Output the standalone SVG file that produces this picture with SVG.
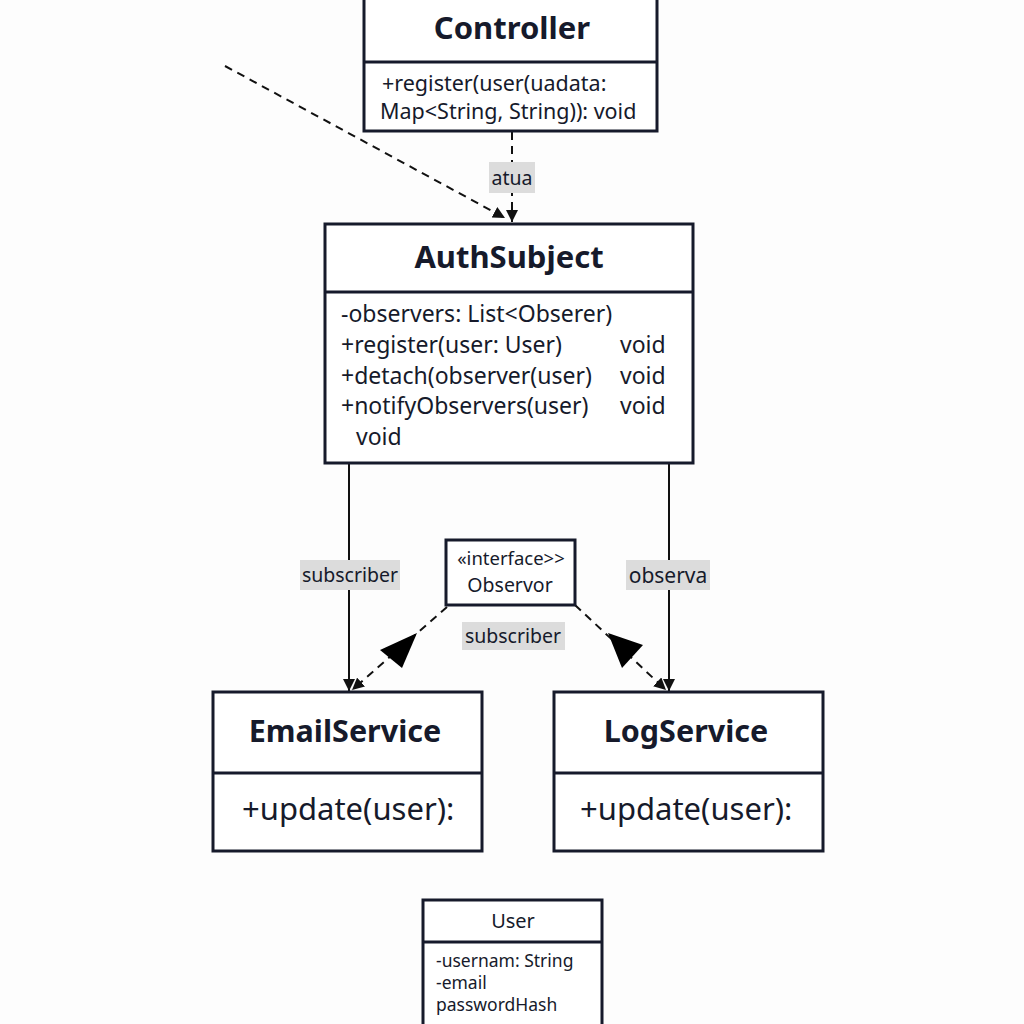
<svg xmlns="http://www.w3.org/2000/svg" width="1024" height="1024" viewBox="0 0 1024 1024">
<style>
.box{fill:#fff;stroke:#161a2b;stroke-width:3}
.div{stroke:#161a2b;stroke-width:3}
.t{font-family:"Noto Sans","Open Sans",sans-serif;fill:#161a2b}
.b{font-weight:bold}
.ln{stroke:#111;stroke-width:2;fill:none}
.ds{stroke-dasharray:8 6}
.lb{fill:#dcdcdc}
</style>
<defs>
<marker id="ah" viewBox="0 0 10 10" refX="10" refY="5" markerWidth="12" markerHeight="12" markerUnits="userSpaceOnUse" orient="auto">
<path d="M0,0 L10,5 L0,10 z" fill="#111"/>
</marker>
</defs>
<rect width="1024" height="1024" fill="#fdfdfd"/>

<g id="connectors">
<line class="ln ds" x1="512" y1="132" x2="512" y2="222" marker-end="url(#ah)"/>
<line class="ln ds" x1="225" y1="66" x2="505" y2="218" marker-end="url(#ah)"/>
<line class="ln" x1="349" y1="464" x2="349" y2="691" marker-end="url(#ah)"/>
<line class="ln" x1="669" y1="464" x2="669" y2="691" marker-end="url(#ah)"/>
<line class="ln ds" x1="447" y1="607" x2="352" y2="690" marker-end="url(#ah)"/>
<line class="ln ds" x1="575" y1="605" x2="666" y2="690" marker-end="url(#ah)"/>
<path d="M417,633 L380,650 L402,668 Z" fill="#000"/>
<path d="M608,633 L643,645 L622,668 Z" fill="#000"/>
<rect class="lb" x="489" y="162" width="46" height="31"/>
<text class="t" x="512" y="185" font-size="19.5" text-anchor="middle">atua</text>
<rect class="lb" x="300" y="560" width="100" height="30"/>
<text class="t" x="350" y="582" font-size="19.5" text-anchor="middle">subscriber</text>
<rect class="lb" x="626" y="560" width="84" height="30"/>
<text class="t" x="668" y="583" font-size="21" text-anchor="middle">observa</text>
<rect class="lb" x="462" y="622" width="103" height="28"/>
<text class="t" x="513" y="643" font-size="19.5" text-anchor="middle">subscriber</text>
</g>

<g id="controller">
<rect class="box" x="364" y="-4" width="293" height="135"/>
<line class="div" x1="364" y1="62" x2="657" y2="62"/>
<text class="t b" x="512" y="39" font-size="31" text-anchor="middle">Controller</text>
<text class="t" x="382" y="91" font-size="21.5">+register(user(uadata:</text>
<text class="t" x="380" y="119" font-size="21.5">Map&lt;String, String)): void</text>
</g>

<g id="authsubject">
<rect class="box" x="325" y="224" width="368" height="239"/>
<line class="div" x1="325" y1="292" x2="693" y2="292"/>
<text class="t b" x="509" y="268" font-size="31" text-anchor="middle">AuthSubject</text>
<text class="t" x="341" y="322" font-size="23">-observers: List&lt;Obserer)</text>
<text class="t" x="341" y="353" font-size="23">+register(user: User)</text>
<text class="t" x="341" y="384" font-size="23">+detach(observer(user)</text>
<text class="t" x="341" y="414" font-size="23">+notifyObservers(user)</text>
<text class="t" x="356" y="445" font-size="23">void</text>
<text class="t" x="620" y="353" font-size="23">void</text>
<text class="t" x="620" y="384" font-size="23">void</text>
<text class="t" x="620" y="414" font-size="23">void</text>
</g>

<g id="observor">
<rect class="box" x="446" y="540" width="129" height="65"/>
<text class="t" x="511" y="565" font-size="18.5" text-anchor="middle">«interface&gt;&gt;</text>
<text class="t" x="510" y="592" font-size="19.5" text-anchor="middle">Observor</text>
</g>

<g id="emailservice">
<rect class="box" x="213" y="692" width="269" height="159"/>
<line class="div" x1="213" y1="773" x2="482" y2="773"/>
<text class="t b" x="345" y="742" font-size="30.5" text-anchor="middle">EmailService</text>
<text class="t" x="242" y="820" font-size="31">+update(user):</text>
</g>

<g id="logservice">
<rect class="box" x="554" y="692" width="269" height="159"/>
<line class="div" x1="554" y1="773" x2="823" y2="773"/>
<text class="t b" x="686" y="742" font-size="30.5" text-anchor="middle">LogService</text>
<text class="t" x="580" y="820" font-size="31">+update(user):</text>
</g>

<g id="user">
<rect class="box" x="423" y="900" width="179" height="130"/>
<line class="div" x1="423" y1="942" x2="602" y2="942"/>
<text class="t" x="513" y="928" font-size="20" text-anchor="middle">User</text>
<text class="t" x="436" y="967" font-size="17.5">-usernam: String</text>
<text class="t" x="436" y="989" font-size="17.5">-email</text>
<text class="t" x="436" y="1011" font-size="17.5">passwordHash</text>
</g>
</svg>
